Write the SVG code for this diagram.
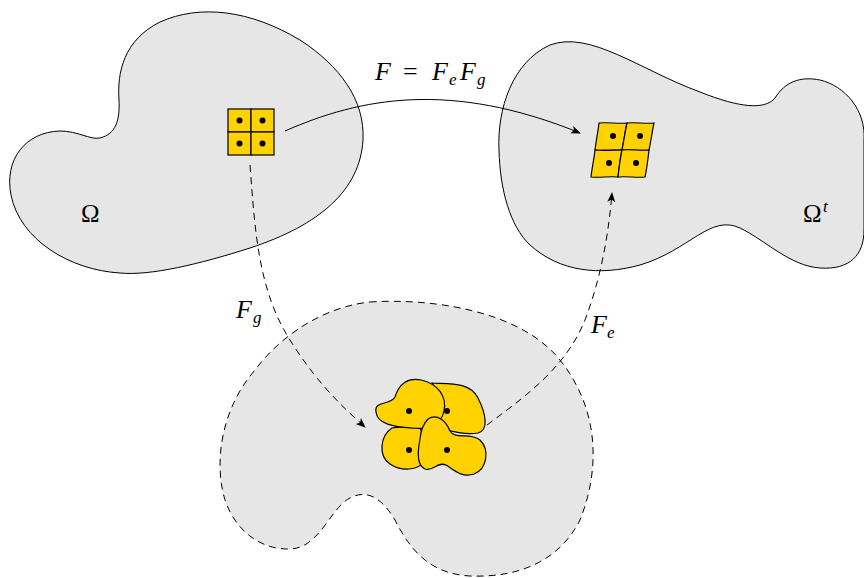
<svg xmlns="http://www.w3.org/2000/svg" width="864" height="578" viewBox="0 0 864 578">
  <style>
    .region { fill: #e6e6e6; stroke: #000; stroke-width: 1; }
    .dashed { stroke-dasharray: 7 5; }
    .cell { fill: #ffd200; stroke: #000; stroke-width: 1.2; }
    .dot { fill: #000; }
    .conn { fill: none; stroke: #000; stroke-width: 1; }
    .math { font-family: "Liberation Serif", "DejaVu Serif", serif; fill: #000; }
    .it { font-style: italic; }
    .sub { font-style: italic; font-size: 17px; }
  </style>
  <defs>
    <marker id="tip" viewBox="0 0 10 10" refX="9" refY="5" markerWidth="10" markerHeight="10" markerUnits="userSpaceOnUse" orient="auto">
      <path d="M0,1 L10,5 L0,9 L2.5,5 Z" fill="#000"/>
    </marker>
  </defs>

  <!-- reference configuration -->
  <g id="omega">
    <path class="region" d="M100,138 C116,134 120,120 119,100 C117,72 124,40 160,22 C200,4 250,10 300,40 C340,66 365,100 363,140 C360,190 320,225 250,248 C200,264 150,276 120,273 C70,270 20,240 11,195 C4,160 25,132 60,131 C78,131 90,140 100,138 Z"/>
    <text class="math" x="81" y="222" font-size="25">Ω</text>
  </g>

  <!-- current configuration -->
  <g id="omega-t">
    <path class="region" d="M499,150 C497,110 512,62 550,45 C590,30 640,70 700,92 C740,108 765,110 775,98 C785,82 800,76 820,80 C845,86 866,110 864,140 L864,230 C864,255 850,270 820,268 C790,266 765,240 740,228 C710,214 690,250 640,265 C600,276 560,272 530,245 C510,226 500,190 499,150 Z"/>
    <text class="math" x="803" y="222" font-size="25">Ω</text>
    <text class="math it" x="823" y="212" font-size="17">t</text>
  </g>

  <!-- intermediate (stress-free) configuration -->
  <g id="omega-g">
    <path class="region dashed" d="M370,302 C430,298 520,310 560,360 C600,410 600,470 580,520 C560,560 520,578 470,576 C430,574 410,550 395,520 C380,495 365,490 350,498 C330,508 320,548 290,549 C260,550 235,530 225,500 C214,465 220,410 255,370 C285,330 330,306 370,302 Z"/>
  </g>

  <!-- undeformed cells -->
  <g id="cells-ref">
    <rect class="cell" x="228" y="109" width="23" height="23"/>
    <rect class="cell" x="251" y="109" width="23" height="23"/>
    <rect class="cell" x="228" y="132" width="23" height="23"/>
    <rect class="cell" x="251" y="132" width="23" height="23"/>
    <circle class="dot" cx="239.5" cy="120.5" r="3"/>
    <circle class="dot" cx="262.5" cy="120.5" r="3"/>
    <circle class="dot" cx="239.5" cy="143.5" r="3"/>
    <circle class="dot" cx="262.5" cy="143.5" r="3"/>
  </g>

  <!-- deformed cells -->
  <g id="cells-cur">
    <path class="cell" d="M599,123 C608,122 618,124 627,123 C625,132 624,140 622,150 C613,150 604,151 595,150 C596,141 598,132 599,123 Z"/>
    <path class="cell" d="M627,123 C636,122 645,124 654,123 C652,132 651,141 649,150 C640,151 631,149 622,150 C624,140 625,132 627,123 Z"/>
    <path class="cell" d="M595,150 C604,151 613,150 622,150 C620,159 619,168 618,177 C609,176 600,178 591,177 C592,168 594,159 595,150 Z"/>
    <path class="cell" d="M622,150 C631,149 640,151 649,150 C648,159 647,168 645,177 C636,178 627,176 618,177 C619,168 620,159 622,150 Z"/>
    <circle class="dot" cx="613" cy="136" r="3"/>
    <circle class="dot" cx="640" cy="136" r="3"/>
    <circle class="dot" cx="609" cy="163" r="3"/>
    <circle class="dot" cx="636" cy="163" r="3"/>
  </g>

  <!-- grown cells -->
  <g id="cells-grown">
    <path class="cell" d="M432,383 C450,384 470,382 478,398 C486,414 489,430 478,433 C464,435 450,431 438,428 C440,412 440,396 432,383 Z"/>
    <path class="cell" d="M392,428 C380,436 378,456 390,464 C402,472 418,470 424,462 C426,450 424,436 420,428 C410,428 400,426 392,428 Z"/>
    <path class="cell" d="M376,412 C374,400 390,406 395,397 C399,384 408,377 421,380 C438,384 447,396 444,411 C441,425 428,430 412,428 C394,427 377,424 376,412 Z"/>
    <path class="cell" d="M428,419 C437,413 446,421 450,431 C455,440 470,432 480,440 C490,450 487,469 474,474 C462,478 454,470 446,465 C438,461 433,472 425,469 C416,465 418,449 420,439 C421,429 424,423 428,419 Z"/>
    <circle class="dot" cx="409" cy="411" r="3"/>
    <circle class="dot" cx="447" cy="411" r="3"/>
    <circle class="dot" cx="409" cy="450" r="3"/>
    <circle class="dot" cx="447" cy="450" r="3"/>
  </g>

  <!-- mappings -->
  <g id="connectors">
    <path class="conn" d="M285,131 C360,98 450,80 580,133" marker-end="url(#tip)"/>
    <path class="conn dashed" d="M250,165 C255,230 258,290 290,340 C315,380 340,405 365,427" marker-end="url(#tip)"/>
    <path class="conn dashed" d="M487,425 C520,400 565,370 585,320 C600,280 608,240 612,193" marker-end="url(#tip)"/>
  </g>

  <g id="labels">
    <text class="math" y="80" font-size="26"><tspan class="it" x="375">F</tspan><tspan x="403">=</tspan><tspan class="it" x="432">F</tspan><tspan class="sub" x="449" dy="5">e</tspan><tspan class="it" x="460" dy="-5">F</tspan><tspan class="sub" x="477" dy="5">g</tspan></text>
    <text class="math" y="318" font-size="26"><tspan class="it" x="236">F</tspan><tspan class="sub" x="253" dy="5">g</tspan></text>
    <text class="math" y="333" font-size="26"><tspan class="it" x="591">F</tspan><tspan class="sub" x="607" dy="5">e</tspan></text>
  </g>
</svg>
